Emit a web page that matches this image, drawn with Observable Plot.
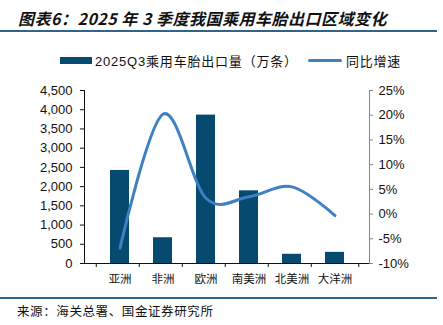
<!DOCTYPE html>
<html><head><meta charset="utf-8">
<script src="https://cdn.jsdelivr.net/npm/d3@7"></script>
<script src="https://cdn.jsdelivr.net/npm/@observablehq/plot@0.6"></script>
<style>
body{margin:0;background:#fff;}
#wrap{position:relative;width:443px;height:325px;overflow:hidden;background:#fff;font-family:"Noto Sans CJK SC","Liberation Sans",sans-serif;color:#111;}
#title{position:absolute;left:18px;top:6px;font-size:16px;font-weight:bold;font-style:italic;white-space:nowrap;letter-spacing:0.5px;}
.rule{position:absolute;left:0;width:437px;height:2px;background:#2f6390;}
#legend{position:absolute;top:51px;left:60px;font-size:13px;white-space:nowrap;display:flex;align-items:center;}
.sw{display:inline-block;}
#chart{position:absolute;left:0;top:70px;}
#source{position:absolute;left:17px;top:301px;font-size:12.5px;white-space:nowrap;letter-spacing:0.6px;}
</style></head><body>
<div id="wrap">
  <div id="title">图表6：2025 年 3 季度我国乘用车胎出口区域变化</div>
  <div class="rule" style="top:30px"></div>
  <div id="legend">
    <span class="sw" style="width:32px;height:7px;background:#064a70;margin-right:3px"></span><span style="letter-spacing:0.8px"><span style="font-family:'Liberation Sans'">2025Q3</span>乘用车胎出口量（万条）</span>
    <span class="sw" style="width:34px;height:3px;background:#3f80c3;margin-left:10px;margin-right:4px;border-radius:2px"></span><span style="letter-spacing:0.8px">同比增速</span>
  </div>
  <div id="chart"></div>
  <div class="rule" style="top:297px"></div>
  <div id="source">来源：海关总署、国金证券研究所</div>
</div>
<script>
const categories = ["亚洲","非洲","欧洲","南美洲","北美洲","大洋洲"];
const exportVolume = [2420, 670, 3860, 1890, 240, 290];   // 万条
const yoyGrowth = [-6.9, 20.2, 3.2, 3.5, 5.5, -0.3];       // %
const leftTicks = [0,500,1000,1500,2000,2500,3000,3500,4000,4500];
const rightTicks = [-10,-5,0,5,10,15,20,25];

const leftMax = 4500, rMin = -10, rMax = 25;
const toLeft = p => (p - rMin) / (rMax - rMin) * leftMax;
const toPct = v => Math.round(v / leftMax * (rMax - rMin) + rMin);

const data = categories.map((c, i) => ({cat: c, vol: exportVolume[i], yoy: yoyGrowth[i]}));

const W = 443, H = 225, mL = 84, mR = 74, mT = 20, mB = 32;
const bw = (W - mL - mR) / categories.length;

const chart = Plot.plot({
  width: W, height: H,
  marginLeft: mL, marginRight: mR, marginTop: mT, marginBottom: mB,
  style: {fontFamily: "'Liberation Sans', Arial, sans-serif", fontSize: "13px", color: "#111", background: "#fff"},
  x: {domain: categories, padding: 0.565, label: null},
  y: {domain: [0, leftMax], label: null},
  marks: [
    Plot.barY(data, {x: "cat", y: "vol", fill: "#064a70"}),
    Plot.line(data, {x: "cat", y: d => toLeft(d.yoy), stroke: "#3f80c3", strokeWidth: 3, curve: "cardinal", tension: 0}),
    Plot.frame({anchor: "left", stroke: "#111"}),
    Plot.frame({anchor: "right", stroke: "#888"}),
    Plot.ruleY([0], {stroke: "#111"}),
    Plot.axisY({anchor: "left", ticks: leftTicks, tickFormat: d3.format(","), tickSize: 4, tickPadding: 8, label: null}),
    Plot.axisY({anchor: "right", ticks: rightTicks.map(toLeft), tickFormat: d => toPct(d) + "%", tickSize: 3, tickPadding: 6, label: null, stroke: "#888"}),
    Plot.axisX({ticks: categories, tickSize: 0, tickPadding: 11, label: null, fontFamily: "'Noto Sans CJK SC', sans-serif", fontSize: 11.5}),
    Plot.axisX({ticks: categories, tickSize: 4, tickFormat: () => "", dx: -bw / 2, label: null}),
    Plot.axisX({ticks: [categories[categories.length - 1]], tickSize: 4, tickFormat: () => "", dx: bw / 2, label: null})
  ]
});
document.getElementById("chart").appendChild(chart);
</script>
</body></html>
